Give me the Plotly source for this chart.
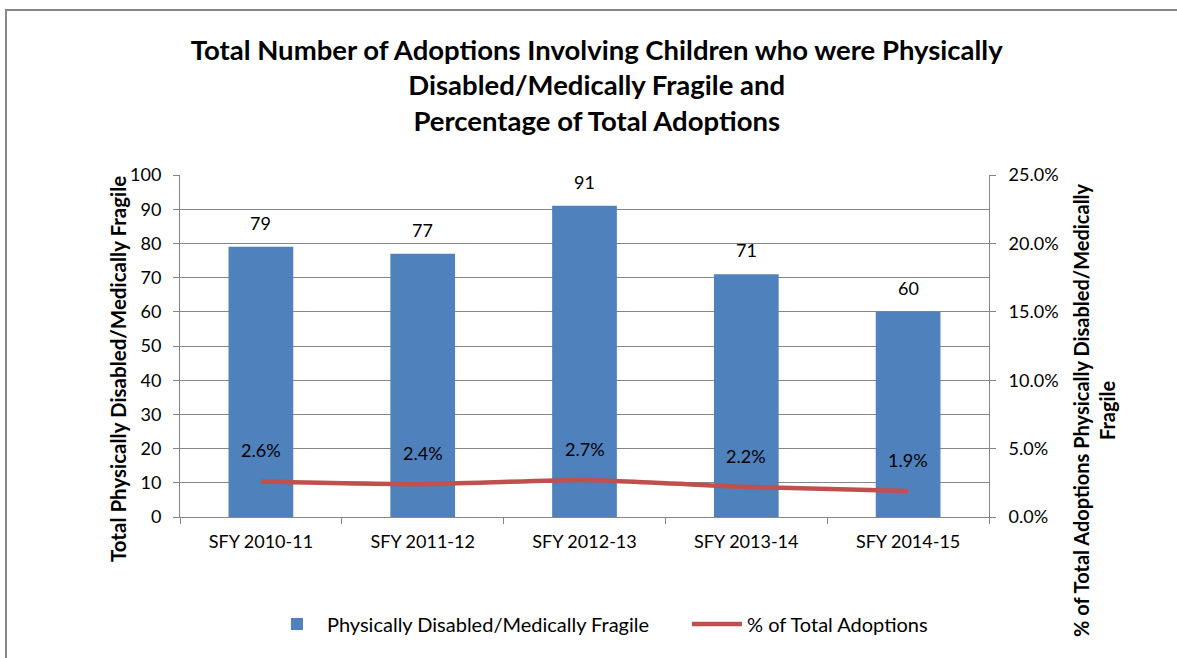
import plotly.graph_objects as go

categories = ["SFY 2010-11", "SFY 2011-12", "SFY 2012-13", "SFY 2013-14", "SFY 2014-15"]
counts = [79, 77, 91, 71, 60]
pct_total = [0.026, 0.024, 0.027, 0.022, 0.019]
count_labels = ["79", "77", "91", "71", "60"]
pct_labels = ["2.6%", "2.4%", "2.7%", "2.2%", "1.9%"]

FONT = "Lato"
GRID = "#868686"
BLUE = "#4F81BD"
RED = "#C0504D"

fig = go.Figure()
fig.add_trace(go.Bar(
    x=categories, y=counts, name="Physically Disabled/Medically Fragile",
    marker=dict(color=BLUE, line=dict(width=0)), width=0.4, legend="legend",
    showlegend=True,
))
fig.add_trace(go.Scatter(
    x=categories, y=pct_total, name="% of Total Adoptions", yaxis="y2",
    mode="lines", line=dict(color=RED, width=4.5, shape="spline", smoothing=0.5),
    legend="legend2", showlegend=True,
))

annotations = []
for c, v, t in zip(categories, counts, count_labels):
    annotations.append(dict(x=c, y=v, xref="x", yref="y", text=t, showarrow=False,
                            yanchor="bottom", yshift=11,
                            font=dict(family=FONT, size=18, color="#000")))
for c, v, t in zip(categories, pct_total, pct_labels):
    annotations.append(dict(x=c, y=v, xref="x", yref="y2", text=t, showarrow=False,
                            yanchor="bottom", yshift=18,
                            font=dict(family=FONT, size=18, color="#000")))

annotations.append(dict(x=-0.0766, y=0.4327, xref="paper", yref="paper",
                        text="<b>Total Physically Disabled/Medically Fragile</b>",
                        textangle=-90, showarrow=False, xanchor="center", yanchor="middle",
                        font=dict(family=FONT, size=20.5, color="#000")))
annotations.append(dict(x=1.1298, y=0.313, xref="paper", yref="paper",
                        text="<b>% of Total Adoptions Physically Disabled/Medically<br>Fragile</b>",
                        textangle=-90, showarrow=False, xanchor="center", yanchor="middle",
                        font=dict(family=FONT, size=20, color="#000")))

legend_common = dict(orientation="h", xanchor="left", y=-0.313, yanchor="middle",
                     font=dict(family=FONT, size=20, color="#000"), itemwidth=50,
                     bgcolor="rgba(0,0,0,0)", visible=True)

fig.update_layout(
    width=1177, height=658,
    margin=dict(l=180, r=188, t=175, b=141),
    paper_bgcolor="white", plot_bgcolor="white",
    showlegend=True,
    font=dict(family=FONT, size=18, color="#000"),
    title=dict(
        text="<b>Total Number of Adoptions Involving Children who were Physically<br>"
             "Disabled/Medically Fragile and<br>Percentage of Total Adoptions</b>",
        x=0.507, xanchor="center", xref="container",
        y=1 - 59.5 / 658, yanchor="top", yref="container",
        font=dict(family=FONT, size=27.5, color="#000"),
    ),
    xaxis=dict(
        showline=True, linecolor=GRID, linewidth=1,
        ticks="outside", tickson="boundaries", ticklen=6, tickcolor=GRID,
        tickfont=dict(family=FONT, size=18, color="#000"),
        ticklabelstandoff=8,
        showgrid=False,
    ),
    yaxis=dict(
        range=[0, 100], dtick=10, showline=True, linecolor=GRID, linewidth=1,
        ticks="outside", ticklen=6, tickcolor=GRID,
        showgrid=True, gridcolor=GRID, gridwidth=1,
        zeroline=False, ticklabelstandoff=8,
        tickfont=dict(family=FONT, size=18, color="#000"),
    ),
    yaxis2=dict(
        range=[0, 0.25], dtick=0.05, tickformat=".1%", overlaying="y", side="right",
        showline=True, linecolor=GRID, linewidth=1,
        ticks="outside", ticklen=6, tickcolor=GRID, showgrid=False, zeroline=False,
        ticklabelstandoff=9,
        tickfont=dict(family=FONT, size=18, color="#000"),
    ),
    legend=dict(x=0.1075, **legend_common),
    legend2=dict(x=0.6267, **legend_common),
    annotations=annotations,
    bargap=0.6,
    shapes=[dict(type="rect", xref="paper", yref="paper",
                 x0=-0.2151, x1=1.236, y0=-0.424, y1=1.4825,
                 line=dict(color="#878787", width=2), fillcolor="rgba(0,0,0,0)", layer="below")],
)

fig.write_html("out.html", config={"displayModeBar": False},
               post_script="document.body.style.margin='0px';")
